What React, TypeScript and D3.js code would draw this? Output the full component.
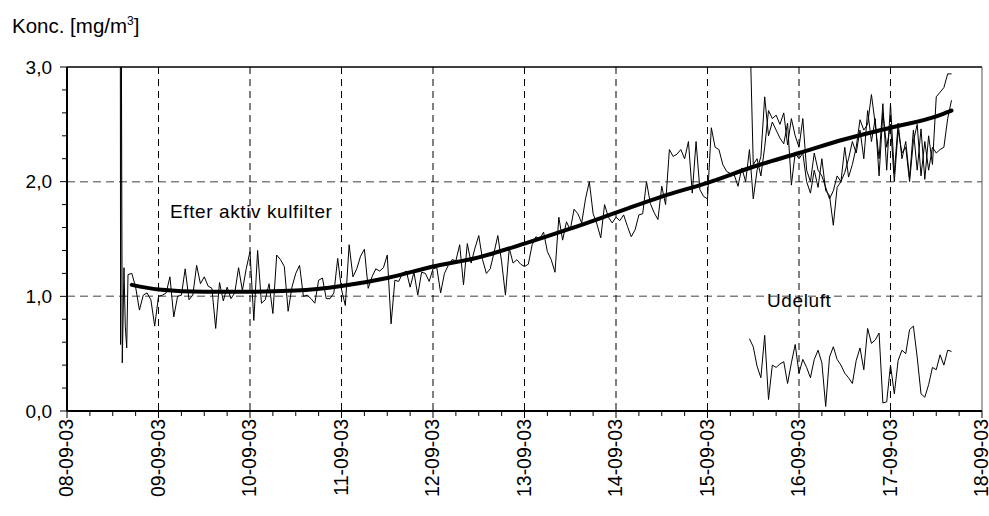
import React, { useEffect, useRef } from "react";
import * as d3 from "d3";

// tick labels
const dayLabels = ["08-09-03", "09-09-03", "10-09-03", "11-09-03", "12-09-03", "13-09-03",
    "14-09-03", "15-09-03", "16-09-03", "17-09-03", "18-09-03"];
const yTickValues = [0, 1, 2, 3];
const yTickLabels = ["0,0", "1,0", "2,0", "3,0"];

// start-up burst of the filter series (hours after 08-09-03 00:00)
const efterBurstHours = [13.98, 14.06, 14.24, 14.5, 14.95, 15.29, 15.66];
const efterBurstValues = [3.5, 0.58, 3.5, 0.42, 1.25, 0.74, 0.55];

// hourly values after the filter, from hour 16
const efterStartHour = 16;
const efterValues = [
    1.19, 1.20, 1.08, 0.88, 1.01, 1.03, 0.97, 0.74, 1.00, 1.01, 1.03, 1.17,
    0.82, 1.00, 1.01, 1.24, 0.97, 1.01, 1.27, 1.11, 1.17, 1.09, 1.07, 0.72,
    1.12, 0.96, 1.08, 0.98, 1.03, 1.25, 1.05, 1.24, 1.39, 0.79, 1.40, 0.94,
    0.97, 1.11, 0.85, 1.36, 1.32, 1.26, 0.87, 1.08, 1.20, 1.27, 1.00, 1.01,
    0.98, 0.94, 1.14, 1.16, 0.98, 0.98, 1.03, 1.33, 1.06, 0.92, 1.45, 1.17,
    1.24, 1.35, 1.41, 1.07, 1.17, 1.24, 1.22, 1.25, 1.36, 0.76, 1.14, 1.13,
    1.20, 1.22, 1.08, 1.21, 1.01, 1.21, 1.20, 1.13, 1.24, 1.25, 1.03, 1.20,
    1.27, 1.32, 1.31, 1.45, 1.10, 1.46, 1.29, 1.42, 1.53, 1.32, 1.20, 1.24,
    1.38, 1.53, 1.30, 1.01, 1.42, 1.29, 1.32, 1.28, 1.26, 1.28, 1.45, 1.52,
    1.50, 1.56, 1.39, 1.32, 1.21, 1.69, 1.49, 1.65, 1.58, 1.76, 1.72, 1.64,
    1.85, 2.00, 1.72, 1.63, 1.51, 1.80, 1.69, 1.64, 1.69, 1.66, 1.71, 1.61,
    1.52, 1.58, 1.71, 1.72, 2.00, 1.81, 1.73, 1.67, 1.96, 1.80, 2.28, 2.22,
    2.24, 2.28, 2.20, 2.35, 1.90, 2.35, 1.93, 1.87, 1.85, 2.47, 2.30, 2.28,
    2.15, 2.09, 2.07, 2.06, 1.96, 2.12, 2.00, 2.28, 1.85, 2.10, 2.22, 2.74,
    2.40, 2.52, 2.45, 2.38, 2.33, 2.51, 1.97, 2.25, 2.20, 2.25, 2.00, 1.90,
    2.10, 1.95, 2.20, 1.92, 1.88, 1.62, 1.95, 2.00, 2.30, 2.04, 2.15, 2.30,
    2.54, 2.45, 2.50, 2.76, 2.50, 2.20, 2.68, 2.10, 2.68, 2.07, 2.51, 2.20,
    2.35, 2.03, 2.45, 2.10, 2.46, 2.02, 2.40, 2.15, 2.74, 2.78, 2.82, 2.94,
    2.94
];

// second filter measurement, hourly from hour 179
const efter2StartHour = 179;
const efter2Values = [
    3.5, 2.15, 2.20, 2.05, 2.30, 2.62, 2.55, 2.58, 2.50, 2.60, 2.32, 2.55,
    2.40, 2.30, 2.55, 2.10, 2.00, 2.25, 2.10, 2.05, 1.95, 1.85, 1.92, 2.05,
    2.00, 2.08, 2.20, 2.35, 2.25, 2.45, 2.20, 2.62, 2.35, 2.55, 2.05, 2.60,
    2.30, 2.50, 2.00, 2.45, 2.25, 2.30, 2.00, 2.35, 2.50, 2.05, 2.35, 2.10,
    2.30, 2.25, 2.28, 2.30, 2.55, 2.71
];

// outdoor air, hourly from hour 179
const udeluftStartHour = 179;
const udeluftValues = [
    0.63, 0.56, 0.39, 0.29, 0.66, 0.10, 0.40, 0.38, 0.41, 0.43, 0.24, 0.42,
    0.58, 0.33, 0.45, 0.38, 0.29, 0.45, 0.53, 0.42, 0.04, 0.47, 0.56, 0.45,
    0.40, 0.33, 0.29, 0.24, 0.44, 0.55, 0.36, 0.72, 0.59, 0.62, 0.68, 0.07,
    0.08, 0.40, 0.15, 0.44, 0.53, 0.50, 0.71, 0.74, 0.47, 0.15, 0.12, 0.23,
    0.38, 0.36, 0.49, 0.40, 0.53, 0.52
];

// smoothed trend
const trendHours = [17, 24, 36, 48, 60, 72, 84, 96, 108, 120, 132, 144, 156, 168, 180, 192, 204, 216, 228, 232];
const trendValues = [1.10, 1.06, 1.04, 1.04, 1.05, 1.09, 1.16, 1.26, 1.34, 1.46, 1.59, 1.73, 1.87, 1.99, 2.13, 2.25, 2.37, 2.47, 2.57, 2.62];

const FONT = "Arial, 'Liberation Sans', sans-serif";

export default function App() {
    const ref = useRef<SVGSVGElement>(null);

    useEffect(() => {
        const margin = { top: 67, left: 67 },
            w = 915,
            h = 344;

        const svg = d3.select(ref.current);
        svg.selectAll("*").remove();

        const container = svg.append("g").attr("transform", `translate(${margin.left}, ${margin.top})`);

        const x_scale = d3.scaleLinear().domain([0, 240]).range([0, w]);
        const y_scale = d3.scaleLinear().domain([0, 3]).range([h, 0]);

        svg.append("defs").append("clipPath").attr("id", "plotclip")
            .append("rect").attr("x", 0).attr("y", 0).attr("width", w).attr("height", h);

        // grid
        container.selectAll(".hgrid").data([1, 2]).join("line").attr("class", "hgrid")
            .attr("x1", 0).attr("x2", w)
            .attr("y1", d => y_scale(d)).attr("y2", d => y_scale(d))
            .attr("stroke", "#808080").attr("stroke-width", 1.5).attr("stroke-dasharray", "8,5");
        container.selectAll(".vgrid").data(d3.range(1, 10)).join("line").attr("class", "vgrid")
            .attr("x1", d => x_scale(d * 24)).attr("x2", d => x_scale(d * 24))
            .attr("y1", 0).attr("y2", h)
            .attr("stroke", "#000").attr("stroke-width", 1).attr("stroke-dasharray", "7,5");

        const line = d3.line<[number, number]>().x(d => x_scale(d[0])).y(d => y_scale(d[1]));

        const efterData: [number, number][] = efterBurstHours.map((t, i) => [t, efterBurstValues[i]] as [number, number])
            .concat(efterValues.map((v, i) => [efterStartHour + i, v] as [number, number]));
        const efter2Data: [number, number][] = efter2Values.map((v, i) => [efter2StartHour + i, v]);
        const udeData: [number, number][] = udeluftValues.map((v, i) => [udeluftStartHour + i, v]);
        const trendData: [number, number][] = trendHours.map((t, i) => [t, trendValues[i]]);

        const plot = container.append("g").attr("clip-path", "url(#plotclip)");

        plot.selectAll(".thin").data([efterData, efter2Data, udeData]).join("path").attr("class", "thin")
            .attr("d", d => line(d))
            .attr("fill", "none").attr("stroke", "#000").attr("stroke-width", 1)
            .attr("stroke-linejoin", "miter");

        plot.append("path")
            .attr("d", d3.line<[number, number]>().x(d => x_scale(d[0])).y(d => y_scale(d[1])).curve(d3.curveMonotoneX)(trendData))
            .attr("fill", "none").attr("stroke", "#000").attr("stroke-width", 4)
            .attr("stroke-linecap", "round");

        // frame
        container.append("line").attr("x1", 0).attr("x2", w).attr("y1", 0).attr("y2", 0)
            .attr("stroke", "#000").attr("stroke-width", 1.5);
        container.append("line").attr("x1", w).attr("x2", w).attr("y1", 0).attr("y2", h)
            .attr("stroke", "#555").attr("stroke-width", 1);
        container.append("line").attr("x1", 0).attr("x2", 0).attr("y1", 0).attr("y2", h)
            .attr("stroke", "#000").attr("stroke-width", 2);
        container.append("line").attr("x1", 0).attr("x2", w).attr("y1", h).attr("y2", h)
            .attr("stroke", "#000").attr("stroke-width", 2);

        // x ticks
        container.selectAll(".xtick").data(d3.range(0, 241, 6)).join("line").attr("class", "xtick")
            .attr("x1", d => x_scale(d)).attr("x2", d => x_scale(d))
            .attr("y1", h).attr("y2", d => h + (d % 24 === 0 ? 7 : 5))
            .attr("stroke", "#000").attr("stroke-width", 1);

        // y ticks
        container.selectAll(".ytick").data(d3.range(0, 16)).join("line").attr("class", "ytick")
            .attr("x1", d => (d % 5 === 0 ? -7 : -5)).attr("x2", 0)
            .attr("y1", d => y_scale(d * 0.2)).attr("y2", d => y_scale(d * 0.2))
            .attr("stroke", "#000").attr("stroke-width", 1);

        // x labels
        container.selectAll(".xlabel").data(dayLabels).join("text").attr("class", "xlabel")
            .attr("transform", (d, i) => `translate(${x_scale(i * 24)}, ${h + 8}) rotate(-90)`)
            .attr("text-anchor", "end").attr("dy", "0.32em")
            .style("font-family", FONT).style("font-size", "19.5px")
            .text(d => d);

        // y labels
        container.selectAll(".ylabel").data(yTickValues).join("text").attr("class", "ylabel")
            .attr("x", -15).attr("y", d => y_scale(d)).attr("dy", "0.35em")
            .attr("text-anchor", "end")
            .style("font-family", FONT).style("font-size", "19px")
            .text((d, i) => yTickLabels[i]);

        // annotations
        container.append("text").attr("x", 103).attr("y", 151)
            .style("font-family", FONT).style("font-size", "19px").style("letter-spacing", "0.6px")
            .text("Efter aktiv kulfilter");
        container.append("text").attr("x", 700).attr("y", 240)
            .style("font-family", FONT).style("font-size", "19px").style("letter-spacing", "0.6px")
            .text("Udeluft");

        // axis title
        const title = svg.append("text").attr("x", 12).attr("y", 33)
            .style("font-family", FONT).style("font-size", "20.5px");
        title.append("tspan").text("Konc. [mg/m");
        title.append("tspan").attr("font-size", "12px").attr("dy", "-8").text("3");
        title.append("tspan").attr("dy", "8").text("]");
    }, []);

    return (
        <svg ref={ref} width={989} height={516}
            style={{ position: "absolute", left: 0, top: 0, background: "#fff" }}>
        </svg>
    );
}
